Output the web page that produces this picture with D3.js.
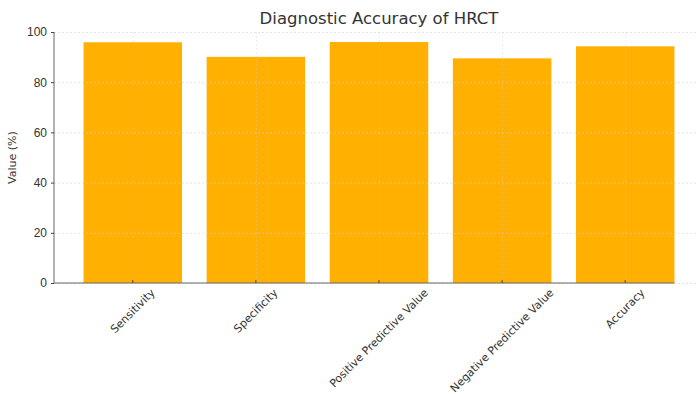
<!DOCTYPE html>
<html>
<head>
<meta charset="utf-8">
<script src="https://cdn.jsdelivr.net/npm/d3@7"></script>
<style>
  body { margin: 0; background: #fff; }
  svg { font-family: "DejaVu Sans", sans-serif; }
  .grid line { stroke: #cfcfcf; stroke-dasharray: 2,2; stroke-width: 0.8; }
  .grid path { display: none; }
  .axis text { fill: #333; font-size: 12px; }
  .axis line { stroke: #444; }
  .axis path { stroke: #666; }
</style>
</head>
<body>
<div id="chart"></div>
<script>
var categories = ["Sensitivity", "Specificity", "Positive Predictive Value", "Negative Predictive Value", "Accuracy"];
var values = [95.9, 90.1, 96.0, 89.5, 94.3];
var yTicks = [0, 20, 40, 60, 80, 100];

var W = 698, H = 394;
var margin = {top: 32, right: -6, bottom: 111, left: 54},
  width = W - margin.left - margin.right,
  height = H - margin.top - margin.bottom;

var svg = d3.select("#chart").append("svg")
  .attr("width", W).attr("height", H);

var g = svg.append("g")
  .attr("transform", "translate(" + margin.left + "," + margin.top + ")");

// matplotlib style: bar width 0.8, 5% margins
var x = d3.scaleLinear().domain([-0.64, categories.length - 1 + 0.64]).range([0, width]);
var step = x(1) - x(0);
var barW = step * 0.8;
var y = d3.scaleLinear().domain([0, 100]).range([height, 0]);

// bars
g.selectAll(".bar").data(values).enter()
  .append("rect")
  .attr("class", "bar")
  .attr("x", function(d, i) { return x(i) - barW / 2; })
  .attr("y", function(d) { return y(d); })
  .attr("width", barW)
  .attr("height", function(d) { return height - y(d); })
  .attr("fill", "#ffb000");

// grid on top (faint)
g.append("g").attr("class", "grid")
  .call(d3.axisLeft(y).tickValues(yTicks).tickSize(-width).tickFormat(""))
  .selectAll("line").attr("stroke-opacity", 0.7);
g.append("g").attr("class", "grid")
  .call(d3.axisBottom(x).tickValues(d3.range(categories.length)).tickSize(height).tickFormat(""))
  .selectAll("line").attr("stroke-opacity", 0.5);

// y axis
var yAxis = g.append("g").attr("class", "axis")
  .call(d3.axisLeft(y).tickValues(yTicks).tickSize(3).tickPadding(4));
yAxis.select(".domain").attr("d", "M0," + height + "V0");

// x axis
var xEnd = x(categories.length - 1) + barW / 2;
g.append("line")
  .attr("x1", 0).attr("x2", xEnd)
  .attr("y1", height).attr("y2", height)
  .attr("stroke", "#666");
g.selectAll(".xtick").data(categories).enter()
  .append("line")
  .attr("x1", function(d, i) { return x(i); })
  .attr("x2", function(d, i) { return x(i); })
  .attr("y1", height).attr("y2", height - 3)
  .attr("stroke", "#444");

// rotated labels, centred under tick
var labels = g.selectAll(".xlabel").data(categories).enter()
  .append("text")
  .attr("class", "xlabel")
  .style("font-size", "11px")
  .style("fill", "#333")
  .attr("text-anchor", "middle")
  .attr("dominant-baseline", "central")
  .text(function(d) { return d; });

labels.each(function(d, i) {
  var L = this.getComputedTextLength();
  var h = 11;
  var cy = height + 4 + (L + h) * Math.SQRT1_2 / 2;
  d3.select(this).attr("transform",
    "translate(" + x(i) + "," + cy + ") rotate(-45)");
});

// y label
g.append("text")
  .attr("transform", "rotate(-90)")
  .attr("x", -height / 2)
  .attr("y", -38)
  .attr("text-anchor", "middle")
  .style("font-size", "11px")
  .style("fill", "#333")
  .text("Value (%)");

// title
g.append("text")
  .attr("x", width / 2)
  .attr("y", -8)
  .attr("text-anchor", "middle")
  .style("font-size", "16.5px")
  .style("fill", "#333")
  .text("Diagnostic Accuracy of HRCT");
</script>
</body>
</html>
